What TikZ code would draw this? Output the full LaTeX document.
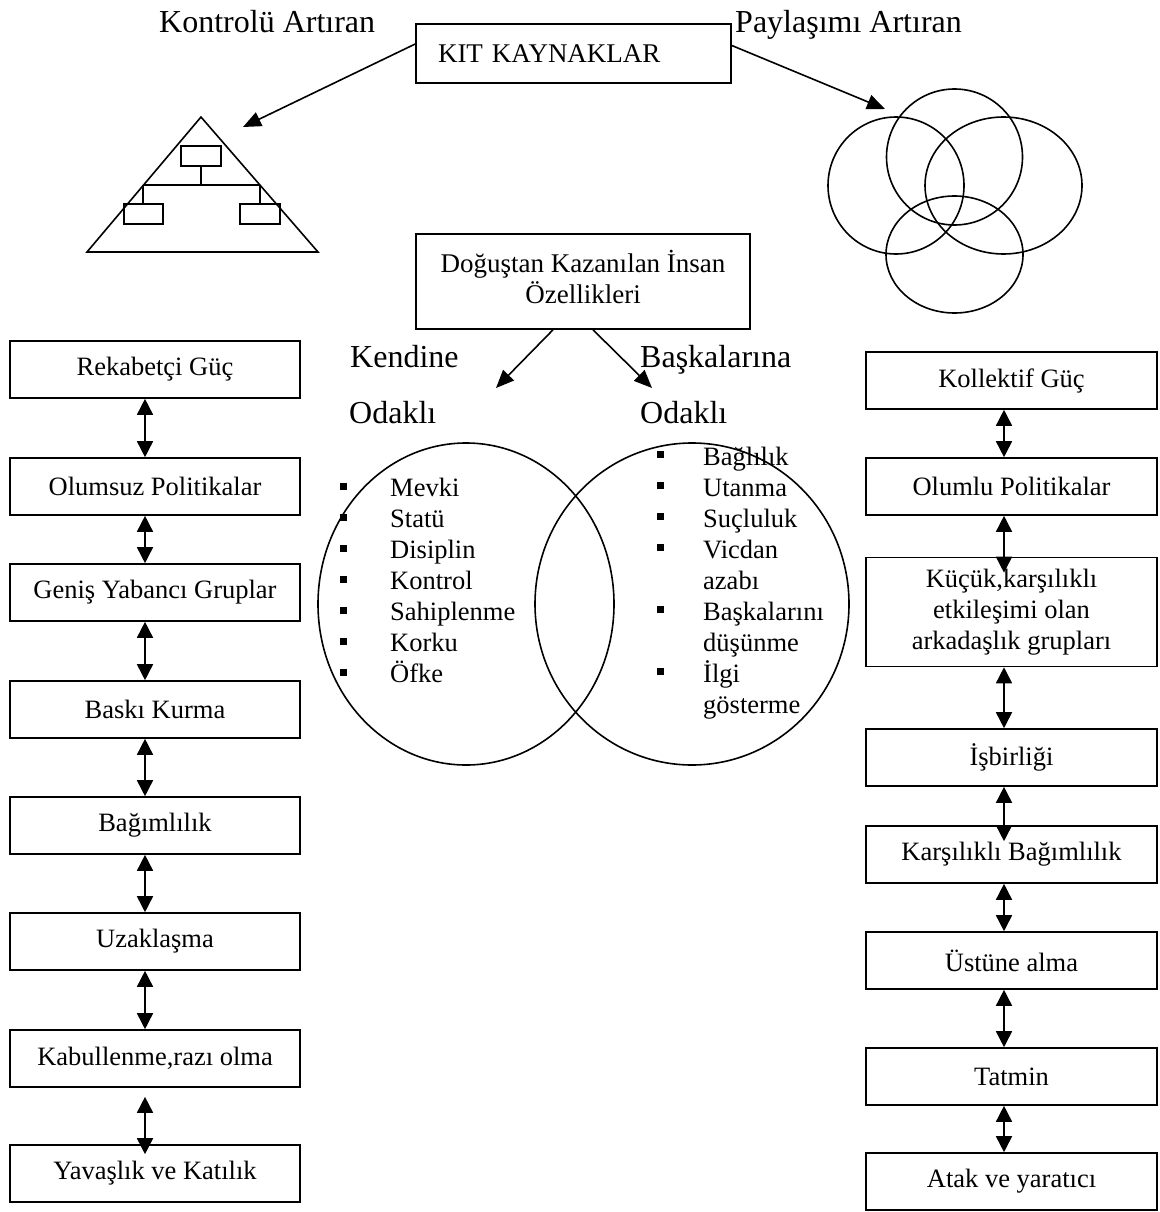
\documentclass[tikz,border=0pt]{standalone}
\usepackage{fontspec}
\setmainfont{Liberation Serif}
\usetikzlibrary{arrows.meta}
\begin{document}
\begin{tikzpicture}[x=1pt,y=-1pt,
  box/.style={draw,line width=1.6pt,minimum width=290pt,minimum height=57pt,inner sep=0pt,font=\fontsize{26.5}{31}\selectfont,align=center},
  lbl/.style={font=\fontsize{32}{36}\selectfont,inner sep=0pt,anchor=base west},
  item/.style={font=\fontsize{26.5}{31}\selectfont,inner sep=0pt,anchor=base west},
  sq/.style={fill=black,minimum size=7pt,inner sep=0pt},
  dbl/.style={{Triangle[width=16pt,length=16pt]}-{Triangle[width=16pt,length=16pt]},line width=1.6pt},
  arr/.style={-{Triangle[width=15pt,length=18pt]},line width=1.6pt},
  thin/.style={line width=1.6pt}
]
\useasboundingbox (0,0) rectangle (1159,1212);

% top
\node[draw,line width=1.6pt,minimum width=315pt,minimum height=59pt,inner sep=0pt,text width=271pt,align=left,font=\fontsize{27}{31}\selectfont] (kit) at (573.5,53.5) {KIT KAYNAKLAR};
\node[lbl] (kontrol) at (159,33) {Kontrolü Artıran};
\node[lbl] (paylasim) at (735,33) {Paylaşımı Artıran};
\coordinate (triend) at (243,127);
\coordinate (circend) at (885,109);
\draw[arr] ([yshift=9.5pt]kit.west) -- (triend);
\draw[arr] ([yshift=8pt]kit.east) -- (circend);

% triangle pictogram
\draw[thin] (201,117) -- (87,252) -- (318,252) -- cycle;
\draw[thin] (181,146) rectangle (221,166);
\draw[thin] (124,204) rectangle (163,224);
\draw[thin] (240,204) rectangle (280,224);
\draw[thin] (201,166) -- (201,185);
\draw[thin] (143,185) -- (260,185);
\draw[thin] (143,185) -- (143,204);
\draw[thin] (260,185) -- (260,204);

% circles pictogram
\draw[thin] (954.5,157) circle [radius=68];
\draw[thin] (896,185.5) ellipse [x radius=68, y radius=68.5];
\draw[thin] (1003.5,185.5) ellipse [x radius=78.5, y radius=68.5];
\draw[thin] (954.5,254.5) ellipse [x radius=68.5, y radius=58.5];

% center
\node[box,minimum width=334pt,minimum height=95pt,font=\fontsize{27}{31}\selectfont] (born) at (583,281.5) {Doğuştan Kazanılan İnsan\\Özellikleri\\[-21pt]};
\coordinate (kend) at (496,388);
\coordinate (bask) at (652,388);
\draw[arr] ([xshift=-30pt]born.south) -- (kend);
\draw[arr] ([xshift=10pt]born.south) -- (bask);
\node[lbl] (kendine) at (350,367) {Kendine};
\node[lbl] (baska) at (640,367) {Başkalarına};
\node[lbl] (odak1) at (349,423) {Odaklı};
\node[lbl] (odak2) at (640,423) {Odaklı};

\draw[thin] (466,604) ellipse [x radius=148, y radius=161];
\draw[thin] (692,604) ellipse [x radius=157, y radius=161];

% left list
\foreach \t/\y [count=\i] in {Mevki/487,Statü/518,Disiplin/549,Kontrol/580,Sahiplenme/611,Korku/642,Öfke/673}{
  \node[sq] (lb\i) at (343,\y-1) {};
  \node[item] (li\i) at (390,\y+9) {\t};
}
% right list
\foreach \t/\y [count=\i] in {Bağlılık/456,Utanma/487,Suçluluk/518,Vicdan/549,Başkalarını/611,İlgi/673}{
  \node[sq] (rb\i) at (660,\y-2) {};
  \node[item] (ri\i) at (703,\y+9) {\t};
}
\node[item] (ri7) at (703,589) {azabı};
\node[item] (ri8) at (703,651) {düşünme};
\node[item] (ri9) at (703,713) {gösterme};

% left column
\node[box] (L1) at (155,369.5) {Rekabetçi Güç};
\node[box] (L2) at (155,486.5) {Olumsuz Politikalar};
\node[box] (L3) at (155,592.5) {Geniş Yabancı Gruplar};
\node[box] (L4) at (155,709.5) {Baskı Kurma};
\node[box] (L5) at (155,825.5) {Bağımlılık};
\node[box] (L6) at (155,941.5) {Uzaklaşma};
\node[box] (L7) at (155,1058.5) {Kabullenme,razı olma};
\node[box] (L8) at (155,1173.5) {Yavaşlık ve Katılık};
\foreach \a/\b in {L1/L2,L2/L3,L3/L4,L4/L5,L5/L6,L6/L7}{
  \draw[dbl] ([xshift=-10pt]\a.south) -- ([xshift=-10pt]\b.north);
}
\draw[dbl,shorten <=9pt,shorten >=-10pt] ([xshift=-10pt]L7.south) -- ([xshift=-10pt]L8.north);

% right column
\node[box,minimum width=291pt] (R1) at (1011.5,380.5) {Kollektif Güç};
\node[box,minimum width=291pt] (R2) at (1011.5,486.5) {Olumlu Politikalar};
\node[box,minimum width=291pt,minimum height=109pt] (R3) at (1011.5,612) {Küçük,karşılıklı\\etkileşimi olan\\arkadaşlık grupları};
\node[box,minimum width=291pt] (R4) at (1011.5,757.5) {İşbirliği};
\node[box,minimum width=291pt] (R5) at (1011.5,854.5) {Karşılıklı Bağımlılık};
\node[box,minimum width=291pt] (R6) at (1011.5,960.5) {Üstüne alma};
\node[box,minimum width=291pt] (R7) at (1011.5,1076.5) {Tatmin};
\node[box,minimum width=291pt] (R8) at (1011.5,1181.5) {Atak ve yaratıcı};
\foreach \a/\b in {R1/R2,R3/R4,R5/R6,R6/R7,R7/R8}{
  \draw[dbl] ([xshift=-7.5pt]\a.south) -- ([xshift=-7.5pt]\b.north);
}
\draw[dbl,shorten >=-16pt] ([xshift=-7.5pt]R2.south) -- ([xshift=-7.5pt]R3.north);
\draw[dbl,shorten >=-16pt] ([xshift=-7.5pt]R4.south) -- ([xshift=-7.5pt]R5.north);
\end{tikzpicture}
\end{document}
